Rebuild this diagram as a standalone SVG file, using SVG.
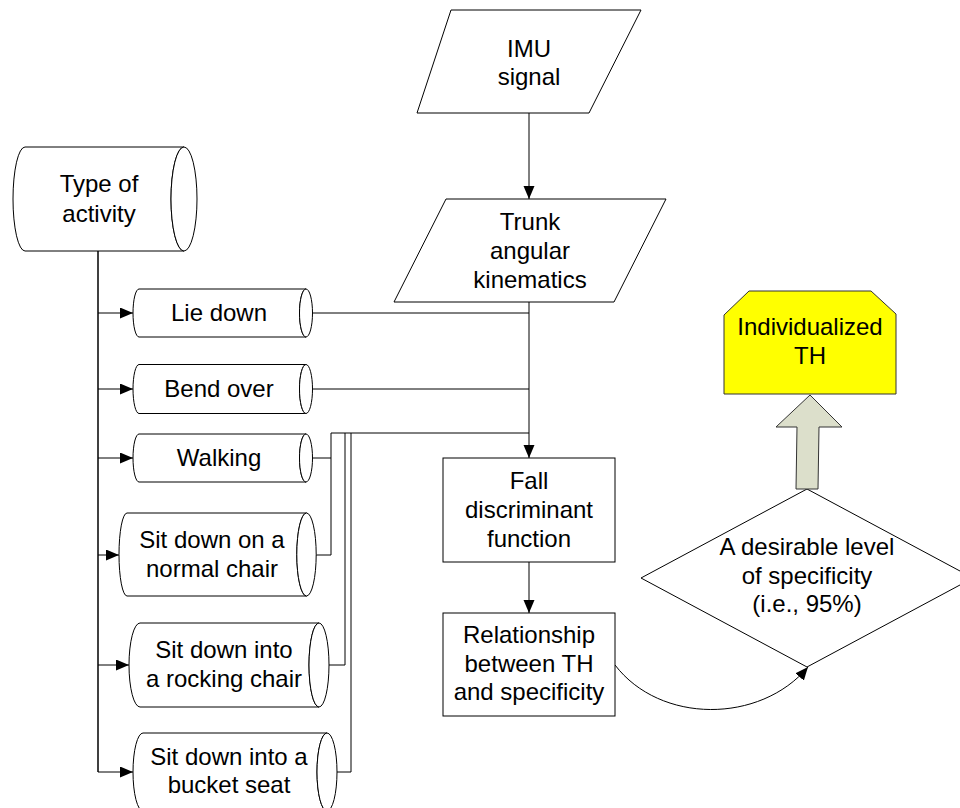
<svg xmlns="http://www.w3.org/2000/svg" width="960" height="808" viewBox="0 0 960 808">
<defs>
<marker id="ah" markerUnits="userSpaceOnUse" markerWidth="14" markerHeight="12" refX="13" refY="5.5" orient="auto">
<path d="M0,0 L13,5.5 L0,11 z" fill="#000"/>
</marker>
<style>
.s{fill:#fff;stroke:#000;stroke-width:1}
.c{fill:none;stroke:#000;stroke-width:1}
.t{font-family:"Liberation Sans",Arial,sans-serif;font-size:24px;fill:#000;text-anchor:middle}
</style>
</defs>
<rect width="960" height="808" fill="#fff"/>

<g id="connectors">
<path class="c" d="M529,113 V199" marker-end="url(#ah)"/>
<path class="c" d="M98,251 V772" style="stroke-width:1.5"/>
<path class="c" d="M98,313 H133" marker-end="url(#ah)"/>
<path class="c" d="M98,389 H133" marker-end="url(#ah)"/>
<path class="c" d="M98,458 H133" marker-end="url(#ah)"/>
<path class="c" d="M98,555 H119" marker-end="url(#ah)"/>
<path class="c" d="M98,665 H129" marker-end="url(#ah)"/>
<path class="c" d="M98,772 H133" marker-end="url(#ah)"/>
<path class="c" d="M312.5,313 H529"/>
<path class="c" d="M312.5,389 H529"/>
<path class="c" d="M312.5,458 H331"/>
<path class="c" d="M316,555 H331 V433 H529"/>
<path class="c" d="M329,665 H345 V433"/>
<path class="c" d="M337,772 H351 V433"/>
<path class="c" d="M529,302 V458" marker-end="url(#ah)"/>
<path class="c" d="M529,562 V613" marker-end="url(#ah)"/>
<path class="c" d="M615,665 C660,724 760,724 808,667" marker-end="url(#ah)"/>
</g>

<g id="imu">
<path class="s" d="M451,10 L641,10 L589,113 L417,113 z"/>
<text class="t" x="529" y="57">IMU</text>
<text class="t" x="529" y="85">signal</text>
</g>

<g id="trunk">
<path class="s" d="M446,199 L666,199 L614,302 L394,302 z"/>
<text class="t" x="530" y="230">Trunk</text>
<text class="t" x="530" y="259">angular</text>
<text class="t" x="530" y="288">kinematics</text>
</g>

<g id="type">
<path class="s" d="M25,147 H184 A13,52 0 0 0 184,251 H25 A12,52 0 0 1 25,147 z"/>
<ellipse class="s" cx="184" cy="199" rx="13" ry="52"/>
<text class="t" x="99" y="192">Type of</text>
<text class="t" x="99" y="222">activity</text>
</g>

<g id="lie">
<path class="s" d="M139,289 H306 A6.5,24 0 0 0 306,337 H139 A6,24 0 0 1 139,289 z"/>
<ellipse class="s" cx="306" cy="313" rx="6.5" ry="24"/>
<text class="t" x="219" y="321">Lie down</text>
</g>

<g id="bend">
<path class="s" d="M139,364.5 H306 A6.5,24.5 0 0 0 306,413.5 H139 A6,24.5 0 0 1 139,364.5 z"/>
<ellipse class="s" cx="306" cy="389" rx="6.5" ry="24.5"/>
<text class="t" x="219" y="397">Bend over</text>
</g>

<g id="walking">
<path class="s" d="M139,434 H306 A6.5,24 0 0 0 306,482 H139 A6,24 0 0 1 139,434 z"/>
<ellipse class="s" cx="306" cy="458" rx="6.5" ry="24"/>
<text class="t" x="219" y="466">Walking</text>
</g>

<g id="normal">
<path class="s" d="M127,513 H306.5 A9.7,41.5 0 0 0 306.5,596 H127 A8,41.5 0 0 1 127,513 z"/>
<ellipse class="s" cx="306.5" cy="554.5" rx="9.7" ry="41.5"/>
<text class="t" x="212" y="548">Sit down on a</text>
<text class="t" x="212" y="577">normal chair</text>
</g>

<g id="rocking">
<path class="s" d="M140,623 H319 A10,42 0 0 0 319,707 H140 A11,42 0 0 1 140,623 z"/>
<ellipse class="s" cx="319" cy="665" rx="10" ry="42"/>
<text class="t" x="224" y="658">Sit down into</text>
<text class="t" x="224" y="687">a rocking chair</text>
</g>

<g id="bucket">
<path class="s" d="M143,733 H327 A10,39 0 0 0 327,811 H143 A10,39 0 0 1 143,733 z"/>
<ellipse class="s" cx="327" cy="772" rx="10" ry="39"/>
<text class="t" x="229" y="765">Sit down into a</text>
<text class="t" x="229" y="793">bucket seat</text>
</g>

<g id="fall">
<rect class="s" x="443" y="458" width="172" height="104"/>
<text class="t" x="529" y="489">Fall</text>
<text class="t" x="529" y="518">discriminant</text>
<text class="t" x="529" y="547">function</text>
</g>

<g id="relationship">
<rect class="s" x="443" y="613" width="172" height="103"/>
<text class="t" x="529" y="643">Relationship</text>
<text class="t" x="529" y="672">between TH</text>
<text class="t" x="529" y="700">and specificity</text>
</g>

<g id="diamond">
<path class="s" d="M807,489 L973,578 L807,667 L641,578 z"/>
<text class="t" x="807" y="555">A desirable level</text>
<text class="t" x="807" y="584">of specificity</text>
<text class="t" x="807" y="612">(i.e., 95%)</text>
</g>

<g id="uparrow">
<path d="M810,395 L842,427 L819,427 L818,489 L796,489 L797,427 L776,427 z" fill="#DCDFCB" stroke="#333" stroke-width="1"/>
</g>

<g id="individualized">
<path d="M749,291 L871,291 L896,314 L896,394 L724,394 L724,315 z" fill="#FFFF00" stroke="#333" stroke-width="1"/>
<text class="t" x="810" y="335">Individualized</text>
<text class="t" x="810" y="364">TH</text>
</g>
</svg>
